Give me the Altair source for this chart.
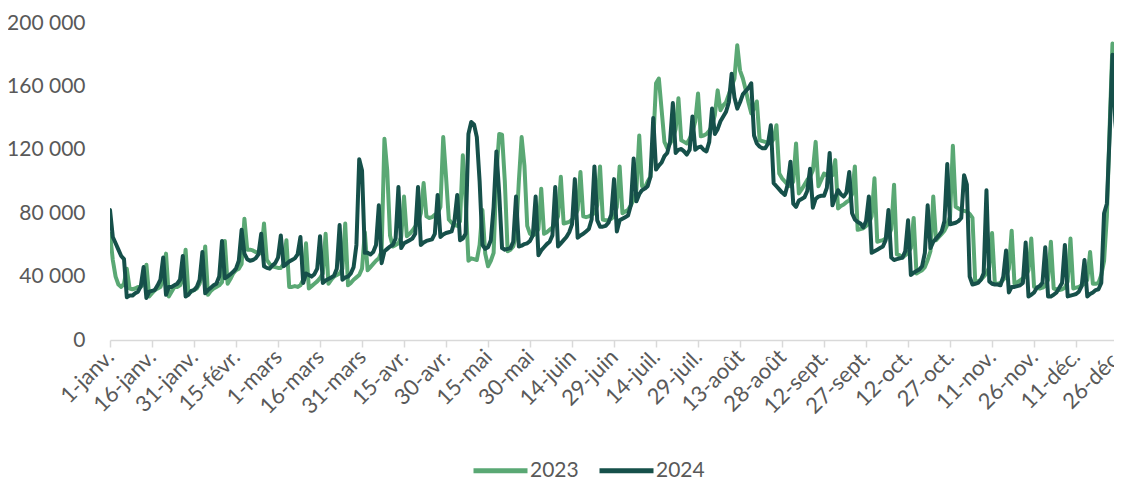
import json
import altair as alt
import pandas as pd

X_LABELS = ["1-janv.", "16-janv.", "31-janv.", "15-févr.", "1-mars", "16-mars",
            "31-mars", "15-avr.", "30-avr.", "15-mai", "30-mai", "14-juin",
            "29-juin", "14-juil.", "29-juil.", "13-août", "28-août", "12-sept.",
            "27-sept.", "12-oct.", "27-oct.", "11-nov.", "26-nov.", "11-déc.",
            "26-déc."]
X_TICK_STEP = 15
Y_TICKS = [0, 40000, 80000, 120000, 160000, 200000]
SERIES = ["2023", "2024"]
COLORS = ["#5AA874", "#16504A"]

V2023 = [
    67000, 50500, 40000, 35000, 33500, 35500, 45000,
    32500, 32000, 32500, 33500, 33500, 35500, 47500,
    27500, 29500, 31500, 32500, 33500, 38000, 54500,
    27500, 30500, 33500, 33500, 34500, 38500, 57000,
    29500, 30500, 31500, 32500, 35500, 42000, 59000,
    28500, 31000, 32500, 33500, 34500, 36500, 62500,
    35500, 38500, 42000, 44000, 45000, 48000, 76500,
    57000, 57000, 56500, 55500, 55000, 54700, 73500,
    50500, 48000, 46500, 46000, 45500, 45500, 48000,
    63000, 33500, 33500, 34000, 33500, 34500, 38000,
    61000, 32500, 34000, 35500, 37000, 39000, 42000,
    67000, 35500, 38000, 40000, 41000, 42000, 45000,
    73500, 34500, 36000, 38000, 39500, 41000, 45000,
    68000, 44000, 46000, 48000, 50000, 51500, 56000,
    127000, 107000, 66000, 59000, 60000, 61000, 65000,
    90500, 65500, 67000, 69000, 71500, 74000, 80000,
    99000, 78000, 77000, 77500, 79000, 80000, 84000,
    128000, 103000, 76000, 74000, 72500, 72000, 75000,
    116500, 88000, 50000, 51500, 51000, 50500, 60000,
    82000, 54500, 46500, 50000, 55000, 105000, 130000,
    129500, 100000, 56000, 57000, 59000, 66000, 100000,
    128000, 110000, 72000, 67000, 66000, 67000, 70000,
    95500, 67000, 68000, 69500, 71000, 73500, 78000,
    103000, 73500, 74000, 74500, 76000, 78000, 82000,
    106000, 78000, 77500, 78000, 79000, 80000, 85000,
    109500, 76000, 75500, 75500, 76500, 78000, 84000,
    109500, 80000, 81000, 82000, 85000, 88500, 95000,
    129000, 97000, 96000, 100000, 103000, 125000, 162000,
    165000, 145000, 125000, 121000, 124000, 127000, 133000,
    152500, 126000, 125000, 124000, 127000, 131000, 138000,
    155500, 128500, 129000, 130000, 132000, 135000, 142000,
    157500, 145000, 148000, 150000, 155000, 160000, 165000,
    186000, 170000, 165000, 158000, 150000, 143000, 146000,
    150500, 126000, 125500, 125000, 124500, 124000, 127000,
    135500, 105000, 102000, 100000, 98000, 97000, 100000,
    124000, 92500, 95000, 98000, 101000, 103000, 107000,
    125000, 97000, 101000, 105000, 104000, 103000, 104000,
    113500, 83000, 84500, 85500, 87000, 88000, 92000,
    109500, 69500, 70000, 70500, 72000, 73500, 78000,
    102000, 62000, 62500, 63000, 64000, 65500, 70000,
    98000, 54000, 53500, 52000, 53500, 55000, 58000,
    77000, 42000, 43000, 44000, 46000, 50500, 56000,
    90500, 63000, 65000, 67000, 69000, 72500, 78000,
    122500, 84000, 83000, 82000, 81500, 81000, 79500,
    77000, 36000, 37000, 38000, 40000, 42000, 46000,
    67500, 35500, 35500, 36000, 38000, 40000, 45000,
    69000, 35500, 36500, 37500, 39000, 40000, 44000,
    64000, 33500, 33000, 32500, 33000, 34000, 38000,
    62000, 32500, 32000, 31500, 32000, 33000, 37000,
    64000, 32500, 33000, 33500, 34500, 35500, 38000,
    55500, 35500, 35500, 36000, 41000, 50000, 78000,
    135000, 187000, 148000, 119000, 111000, 105000,
]

V2024 = [
    82000, 65000, 61000, 57000, 53000, 51000, 27000,
    28000, 28000, 29500, 30500, 34000, 46000, 26500,
    30500, 31000, 31500, 34500, 38000, 52000, 28500,
    33500, 33500, 34500, 35500, 38000, 53000, 27500,
    28500, 31000, 31500, 33500, 38000, 55500, 29500,
    31500, 33000, 34500, 35500, 40000, 62500, 39000,
    40000, 41500, 43000, 45000, 50000, 69500, 54500,
    51000, 50000, 50500, 51500, 54000, 67000, 46500,
    45500, 45000, 47000, 48500, 52000, 66000, 46500,
    48000, 49500, 50500, 51500, 54000, 65000, 36000,
    42000, 41000, 40000, 41500, 45000, 65500, 36000,
    37500, 38500, 39500, 40500, 45000, 72500, 38000,
    39500, 40000, 42000, 46000, 60000, 114000, 107000,
    55000, 55000, 54000, 55500, 60000, 85000, 48500,
    56000, 57500, 59000, 60000, 64000, 96500, 58000,
    61000, 62000, 63000, 64000, 67000, 96500, 60000,
    61500, 62500, 63000, 63500, 67000, 91500, 65000,
    66500, 67500, 68000, 68500, 75000, 91500, 63000,
    64000, 67000, 130000, 137500, 136000, 128000, 100000,
    60000, 57500, 58500, 63000, 84000, 119000, 92000,
    58000, 57000, 57500, 58000, 62000, 90500, 59000,
    59500, 60500, 61000, 62500, 66000, 90500, 53500,
    56500, 58500, 60500, 62000, 66000, 96500, 59000,
    61000, 63000, 65000, 68000, 73000, 101500, 64500,
    66000, 67000, 68500, 70000, 76000, 109500, 75500,
    71500, 71500, 72000, 74000, 79000, 101500, 68500,
    75500, 76500, 77500, 78500, 85000, 114500, 87500,
    92000, 94500, 95500, 97000, 103000, 140000, 107500,
    110000, 112000, 116000, 118000, 125000, 149500, 118000,
    120000, 120500, 119000, 117000, 120000, 141000, 120000,
    121500, 122000, 120000, 119000, 125000, 146000, 130000,
    133000, 138000, 141000, 144000, 150000, 168000, 153000,
    146000, 150000, 155000, 157000, 159000, 162000, 129000,
    124000, 122000, 121000, 121000, 124000, 135500, 99000,
    97000, 95000, 93000, 91500, 98000, 112500, 86000,
    84000, 88000, 89000, 90000, 94000, 108000, 83500,
    89000, 90500, 91000, 91000, 96000, 118000, 85000,
    90000, 94500, 92000, 90500, 93000, 106000, 80000,
    76000, 74500, 73500, 71000, 75000, 90500, 55000,
    56000, 57000, 58000, 59000, 63000, 82000, 52000,
    50500, 51000, 51500, 52000, 56000, 75500, 41000,
    42500, 43500, 44500, 46500, 55000, 85000, 58000,
    62000, 64000, 66000, 68500, 75000, 111000, 73000,
    73500, 74000, 75000, 77000, 104000, 98000, 40000,
    35000, 35500, 36000, 38000, 42000, 94500, 37000,
    35500, 35000, 35000, 34500, 40000, 56500, 30000,
    33500, 33500, 34000, 34500, 36000, 61500, 27500,
    28500, 30000, 33000, 34000, 36000, 58500, 27500,
    27500, 28500, 30000, 33000, 36000, 60000, 27500,
    28000, 28500, 29000, 30500, 34000, 50500, 27500,
    29000, 30000, 31500, 32000, 36000, 80000, 86000,
    130000, 180000, 138000, 119000, 115000, 110000,
]

rows = []
for name, vals in zip(SERIES, [V2023, V2024]):
    for i, v in enumerate(vals):
        rows.append({"day": i, "value": v, "year": name})
df = pd.DataFrame(rows)

FONT = "Lato"
TXT = "#595959"

label_expr = json.dumps(X_LABELS, ensure_ascii=False) + f"[round(datum.value / {X_TICK_STEP})]"

x_enc = alt.X(
    "day:Q",
    scale=alt.Scale(domain=[0, 361.4], nice=False, zero=False),
    axis=alt.Axis(
        values=list(range(0, X_TICK_STEP * len(X_LABELS), X_TICK_STEP)),
        labelExpr=label_expr,
        title=None, grid=False,
        labelAngle=-45, labelAlign="right", labelBaseline="middle",
        labelFont=FONT, labelFontSize=22, labelColor=TXT, labelPadding=6,
        tickSize=7, tickColor="#D9D9D9", tickWidth=1.5,
        domainColor="#D9D9D9", domainWidth=1.5, labelOverlap=False,
    ),
)
y_enc = alt.Y(
    "value:Q",
    scale=alt.Scale(domain=[0, 200000], nice=False),
    axis=alt.Axis(
        values=Y_TICKS,
        labelExpr="replace(format(datum.value, ','), ',', ' ')",
        title=None, grid=False, domain=False, ticks=False, tickSize=0,
        labelFont=FONT, labelFontSize=21, labelColor=TXT, labelPadding=25,
    ),
)
color_enc = alt.Color(
    "year:N",
    scale=alt.Scale(domain=SERIES, range=COLORS),
    legend=alt.Legend(
        orient="none", legendX=361, legendY=418, direction="horizontal",
        title=None, symbolType="stroke", symbolSize=2916, symbolStrokeWidth=5,
        labelFont=FONT, labelFontSize=21, labelColor=TXT, labelOffset=0,
        columnPadding=10, padding=0,
    ),
)

base = alt.Chart(df).mark_line(strokeWidth=4, clip=True, strokeJoin="round", strokeCap="round")
layers = [
    base.transform_filter(alt.datum.year == s).encode(x=x_enc, y=y_enc, color=color_enc)
    for s in SERIES
]

chart = alt.layer(*layers).properties(
    width=1012, height=317,
    autosize=alt.AutoSizeParams(type="none"),
    padding={"left": 102, "top": 15, "right": -8, "bottom": 140},
    background="white",
).configure_view(strokeWidth=0)

chart.save("out.html", embed_options={"renderer": "svg", "actions": False})
